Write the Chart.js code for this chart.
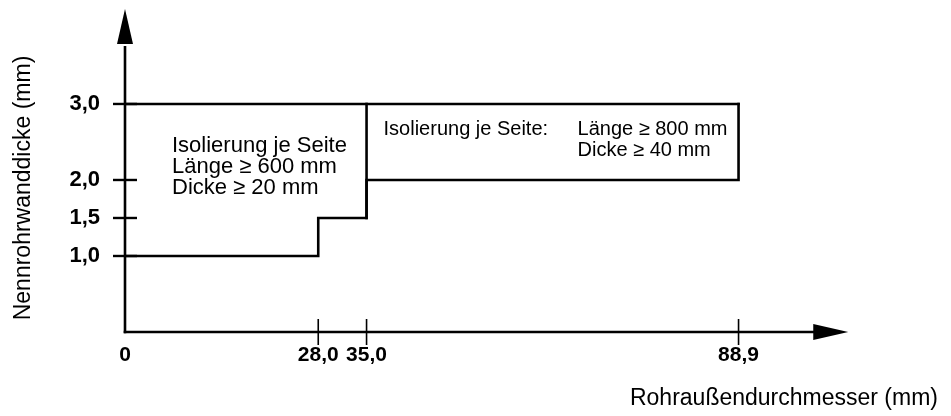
<!DOCTYPE html>
<html>
<head>
<meta charset="utf-8">
<style>
  html, body { margin: 0; padding: 0; background: #ffffff; }
  #wrap { width: 951px; height: 416px; }
</style>
<script src="https://cdn.jsdelivr.net/npm/chart.js@4/dist/chart.umd.min.js"></script>
</head>
<body>
<div id="wrap"><canvas id="c" width="951" height="416"></canvas></div>
<script>
// ---- data ----
const boundaryX = [0, 28.0, 28.0, 35.0, 35.0, 88.9, 88.9];
const boundaryY = [1.0, 1.0, 1.5, 1.5, 2.0, 2.0, 3.0];
const topLineX = [0, 88.9];
const topLineY = [3.0, 3.0];
const dividerX = [35.0, 35.0];
const dividerY = [1.5, 3.0];

const xTickValues = [0, 28.0, 35.0, 88.9];
const xTickLabels = ['0', '28,0', '35,0', '88,9'];
const yTickValues = [1.0, 1.5, 2.0, 3.0];
const yTickLabels = ['1,0', '1,5', '2,0', '3,0'];

const leftBoxText = ['Isolierung je Seite', 'Länge ≥ 600 mm', 'Dicke ≥ 20 mm'];
const rightBoxHead = 'Isolierung je Seite:';
const rightBoxText = ['Länge ≥ 800 mm', 'Dicke ≥ 40 mm'];

const xAxisTitle = 'Rohraußendurchmesser (mm)';
const yAxisTitle = 'Nennrohrwanddicke (mm)';

// ---- helpers ----
const FONT = '"Liberation Sans", Arial, Helvetica, sans-serif';
const pts = (xs, ys) => xs.map((x, i) => ({ x: x, y: ys[i] }));
const lineDs = (xs, ys) => ({
  data: pts(xs, ys),
  showLine: true,
  borderColor: '#000',
  borderWidth: 2.6,
  pointRadius: 0,
  borderJoinStyle: 'miter',
  borderCapStyle: 'square',
  fill: false,
  tension: 0
});
const noPad = s => { s.paddingTop = 0; s.paddingBottom = 0; s.paddingLeft = 0; s.paddingRight = 0; };

const X_ARROW_END = 104.8;

const overlay = {
  id: 'overlay',
  afterDatasetsDraw(chart) {
    const ctx = chart.ctx;
    const xs = chart.scales.x, ys = chart.scales.y;
    const x0 = xs.getPixelForValue(0);
    const y0 = ys.getPixelForValue(0);
    const yBase = ys.top;
    const xTip = xs.getPixelForValue(X_ARROW_END);
    ctx.save();
    ctx.strokeStyle = '#000';
    ctx.fillStyle = '#000';
    ctx.lineWidth = 2.6;
    ctx.lineCap = 'butt';
    // axis lines
    ctx.beginPath();
    ctx.moveTo(x0, y0 + 1.3);
    ctx.lineTo(x0, yBase + 2);
    ctx.stroke();
    ctx.beginPath();
    ctx.moveTo(x0 - 1.3, y0);
    ctx.lineTo(xTip - 32, y0);
    ctx.stroke();
    // arrowheads
    ctx.beginPath();
    ctx.moveTo(x0, yBase - 35);
    ctx.lineTo(x0 - 8, yBase);
    ctx.lineTo(x0 + 8, yBase);
    ctx.closePath();
    ctx.fill();
    ctx.beginPath();
    ctx.moveTo(xTip, y0);
    ctx.lineTo(xTip - 35, y0 - 8);
    ctx.lineTo(xTip - 35, y0 + 8);
    ctx.closePath();
    ctx.fill();
    // y tick marks (crossing the axis)
    ctx.lineWidth = 2.4;
    yTickValues.forEach(v => {
      const py = ys.getPixelForValue(v);
      ctx.beginPath();
      ctx.moveTo(x0 - 12, py);
      ctx.lineTo(x0 + 12, py);
      ctx.stroke();
    });
    // x tick marks
    ctx.lineWidth = 1.6;
    xTickValues.forEach(v => {
      if (v === 0) return;
      const px = xs.getPixelForValue(v);
      ctx.beginPath();
      ctx.moveTo(px, y0 - 13);
      ctx.lineTo(px, y0 + 13);
      ctx.stroke();
    });
    // annotation texts
    ctx.textAlign = 'left';
    ctx.textBaseline = 'alphabetic';
    ctx.font = '22px ' + FONT;
    const lx = x0 + 47;
    const ly = ys.getPixelForValue(3.0) + 48;
    leftBoxText.forEach((t, i) => ctx.fillText(t, lx, ly + i * 21));
    ctx.font = '20px ' + FONT;
    const rx = xs.getPixelForValue(35.0) + 17;
    const ry = ys.getPixelForValue(3.0) + 31;
    ctx.fillText(rightBoxHead, rx, ry);
    const rx2 = xs.getPixelForValue(88.9) - 161;
    rightBoxText.forEach((t, i) => ctx.fillText(t, rx2, ry + i * 21));
    ctx.restore();
  }
};

new Chart(document.getElementById('c'), {
  type: 'scatter',
  data: {
    datasets: [
      lineDs(boundaryX, boundaryY),
      lineDs(topLineX, topLineY),
      lineDs(dividerX, dividerY)
    ]
  },
  options: {
    responsive: false,
    devicePixelRatio: 1,
    animation: false,
    layout: { padding: { top: 44, right: 13, left: 0, bottom: 0 } },
    plugins: { legend: { display: false }, tooltip: { enabled: false } },
    scales: {
      x: {
        type: 'linear',
        min: 0,
        max: 117.8,
        grid: { display: false, drawTicks: false },
        border: { display: false },
        afterBuildTicks: s => { s.ticks = xTickValues.map(v => ({ value: v })); },
        afterFit: s => { s.height = 84; noPad(s); },
        ticks: {
          autoSkip: false,
          maxRotation: 0,
          padding: 11,
          color: '#000',
          font: { family: FONT, size: 21, weight: 'bold' },
          callback: (v, i) => xTickLabels[i]
        },
        title: {
          display: true,
          text: xAxisTitle,
          align: 'end',
          color: '#000',
          font: { family: FONT, size: 23 },
          padding: { top: 4, bottom: 4 }
        }
      },
      y: {
        type: 'linear',
        min: 0,
        max: 3.789,
        grid: { display: false, drawTicks: false },
        border: { display: false },
        afterBuildTicks: s => { s.ticks = yTickValues.map(v => ({ value: v })); },
        afterFit: s => { s.width = 125; noPad(s); },
        ticks: {
          autoSkip: false,
          padding: 25,
          color: '#000',
          font: { family: FONT, size: 22, weight: 'bold' },
          callback: (v, i) => yTickLabels[i]
        },
        title: {
          display: true,
          text: yAxisTitle,
          color: '#000',
          font: { family: FONT, size: 23 },
          padding: { top: 10, bottom: 0 }
        }
      }
    }
  },
  plugins: [overlay]
});
</script>
</body>
</html>
